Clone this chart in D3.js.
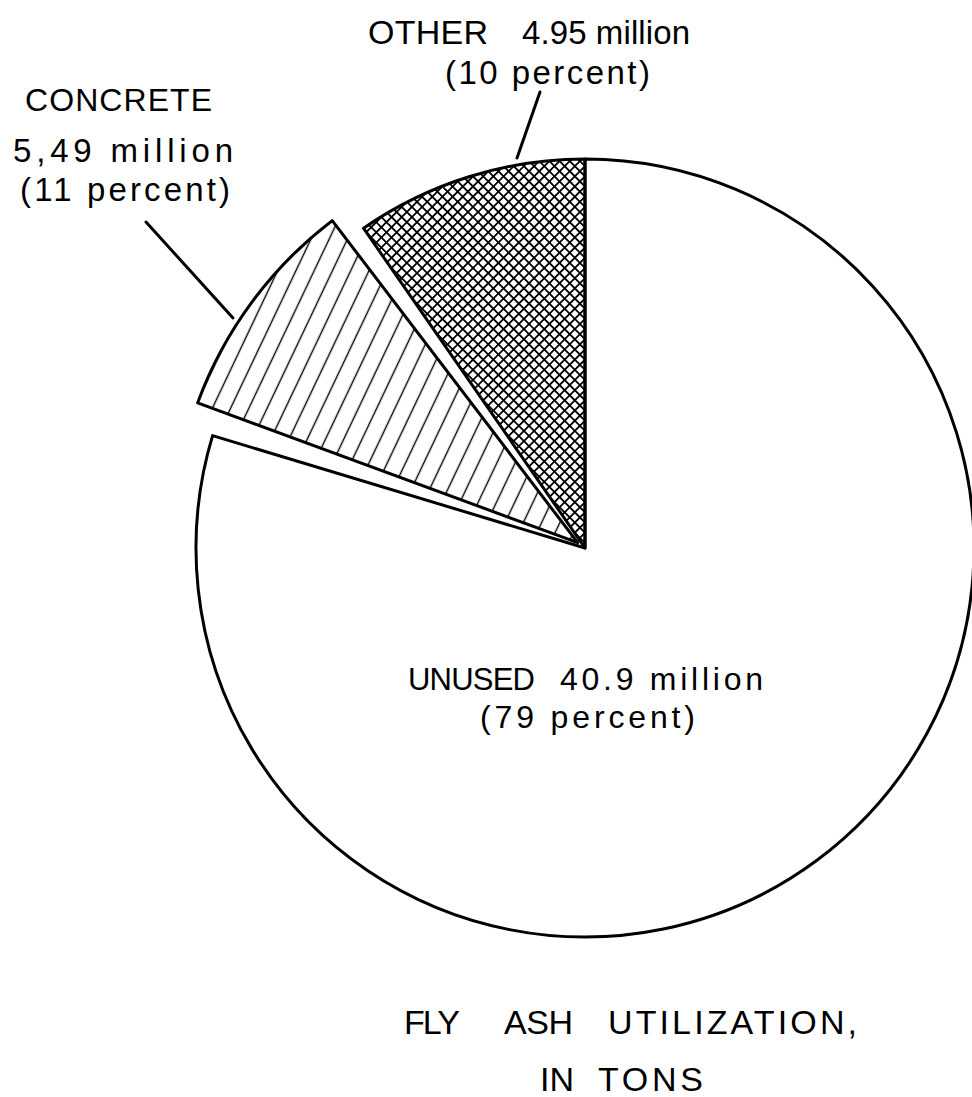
<!DOCTYPE html>
<html><head><meta charset="utf-8">
<script src="https://cdn.jsdelivr.net/npm/d3@7"></script>
<style>html,body{margin:0;padding:0;background:#fff;} svg{display:block;}</style>
</head><body>
<svg id="chart" width="972" height="1097"></svg>
<script>
// ---- data ----
const categories = ["UNUSED", "CONCRETE", "OTHER"];
const tonsMillions = [40.9, 5.49, 4.95];
const percents = [79, 11, 10];
const amountLabels = ["40.9 million", "5,49 million", "4.95 million"];
const titleLines = ["FLY ASH UTILIZATION,", "IN TONS"];

// ---- layout ----
const W = 972, H = 1097, cx = 585, cy = 548, R = 389;
const FONT = "'Liberation Sans', Arial, sans-serif";
const svg = d3.select("#chart");
svg.append("rect").attr("width", W).attr("height", H).attr("fill", "#fff");
const defs = svg.append("defs");

// single hatch ("/" lines) for concrete
const hs = 16.5;
const hatch = defs.append("pattern").attr("id", "hatch")
  .attr("patternUnits", "userSpaceOnUse").attr("width", hs).attr("height", hs)
  .attr("patternTransform", "rotate(25.4)");
hatch.append("line").attr("x1", hs / 2).attr("y1", -1).attr("x2", hs / 2).attr("y2", hs + 1)
  .attr("stroke", "#000").attr("stroke-width", 1.4);

// cross hatch for other
const cs = 7.2;
const cross = defs.append("pattern").attr("id", "cross")
  .attr("patternUnits", "userSpaceOnUse").attr("width", cs).attr("height", cs)
  .attr("patternTransform", "rotate(45)");
cross.append("line").attr("x1", cs / 2).attr("y1", -1).attr("x2", cs / 2).attr("y2", cs + 1)
  .attr("stroke", "#000").attr("stroke-width", 1.8);
cross.append("line").attr("x1", -1).attr("y1", cs / 2).attr("x2", cs + 1).attr("y2", cs / 2)
  .attr("stroke", "#000").attr("stroke-width", 1.8);

const data = categories.map((c, i) => ({ c, v: tonsMillions[i], p: percents[i], i }));
const pie = d3.pie().sort(null).value(d => d.v).startAngle(0).endAngle(2 * Math.PI);
const arcs = pie(data);

const fills = { UNUSED: "#fff", CONCRETE: "url(#hatch)", OTHER: "url(#cross)" };
const g = svg.append("g").attr("transform", `translate(${cx},${cy})`);
const deg = Math.PI / 180;

// draw order: unused, other, concrete
const order = ["UNUSED", "OTHER", "CONCRETE"];
order.forEach(name => {
  const a = arcs.find(d => d.data.c === name);
  let s = a.startAngle, e = a.endAngle, r = R, off = 0;
  if (name === "CONCRETE") { s += 3.4 * deg; e -= 2.6 * deg; r = R + 16; off = 9; }
  const mid = (a.startAngle + a.endAngle) / 2;
  const arc = d3.arc().innerRadius(0).outerRadius(r);
  g.append("path")
    .attr("d", arc({ startAngle: s, endAngle: e }))
    .attr("transform", `translate(${off * Math.sin(mid)},${-off * Math.cos(mid)})`)
    .attr("fill", fills[name])
    .attr("stroke", "#000").attr("stroke-width", 3).attr("stroke-linejoin", "round");
});

// ---- labels ----
function word(txt, x, x2, y, size) {
  const t = svg.append("text").attr("x", x).attr("y", y)
    .attr("font-family", FONT).attr("font-size", size || 32).attr("fill", "#000")
    .text(txt);
  if (x2 != null) t.attr("textLength", x2 - x).attr("lengthAdjust", "spacing");
}
// OTHER
word(categories[2], 368, 488, 44, 34);
word(amountLabels[2], 522, 690, 44, 33);
word(`(${percents[2]} percent)`, 445, 650, 84, 33);
// CONCRETE
word(categories[1], 25, 212, 111, 32);
word(amountLabels[1], 13, 233, 162, 33);
word(`(${percents[1]} percent)`, 20, 230, 201, 33);
// UNUSED
word(categories[0], 408, 535, 690, 31);
word(amountLabels[0], 560, 763, 690, 32);
word(`(${percents[0]} percent)`, 480, 695, 728, 32);
// title
const t1 = titleLines[0].split(" ");
word(t1[0], 404, 460, 1034, 34);
word(t1[1], 504, 573, 1034, 34);
word(t1[2], 608, 857, 1034, 34);
const t2 = titleLines[1].split(" ");
word(t2[0], 540, null, 1091, 34);
word(t2[1], 598, 703, 1091, 34);

// leader lines
svg.append("line").attr("x1", 146).attr("y1", 222).attr("x2", 233).attr("y2", 318)
  .attr("stroke", "#000").attr("stroke-width", 3).attr("stroke-linecap", "round");
svg.append("line").attr("x1", 540).attr("y1", 92).attr("x2", 517).attr("y2", 158)
  .attr("stroke", "#000").attr("stroke-width", 3).attr("stroke-linecap", "round");
</script>
</body></html>
